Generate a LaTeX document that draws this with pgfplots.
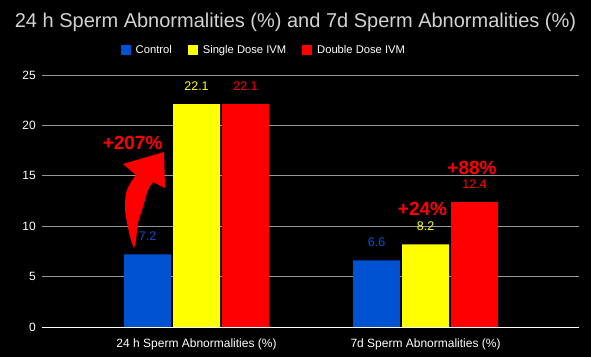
\documentclass[border=0pt]{standalone}
\usepackage{fontspec}
\setmainfont{Liberation Sans}
\usepackage{pgfplots}
\pgfplotsset{compat=1.18}
\definecolor{cblue}{RGB}{0,82,208}
\definecolor{cyellow}{RGB}{255,255,0}
\definecolor{cred}{RGB}{255,0,0}
\definecolor{gridgray}{RGB}{150,150,150}
\definecolor{titlegray}{RGB}{210,210,210}
\begin{document}
\begin{tikzpicture}
\fill[black] (0,0) rectangle (591bp,357bp);
\useasboundingbox (0,0) rectangle (591bp,357bp);
\begin{axis}[
  at={(42bp,30bp)}, anchor=south west,
  scale only axis, width=536.5bp, height=252bp,
  ybar=2bp, bar width=47bp,
  xmin=-0.6747, xmax=1.668, ymin=0, ymax=25,
  xtick={0,1}, xticklabels={24 h Sperm Abnormalities (\%), 7d Sperm Abnormalities (\%)},
  ytick={0,5,...,25},
  ymajorgrids, grid style={gridgray, line width=0.8bp},
  axis line style={draw=none},
  tick style={draw=none},
  tick label style={font=\fontsize{12bp}{14bp}\selectfont, text=white},
  /pgf/number format/assume math mode=true,
  yticklabel style={anchor=east, inner sep=0pt, xshift=-6bp},
  xticklabel style={anchor=north, inner sep=0pt, yshift=-7bp},
  clip=false,
  nodes near coords,
  nodes near coords style={font=\fontsize{12.5bp}{14bp}\selectfont, anchor=center, yshift=18bp},
  legend style={at={(0.4135,1.099)}, anchor=center, draw=none, fill=none, text=white,
    font=\fontsize{11.2bp}{13bp}\selectfont, legend columns=3,
    /tikz/every odd column/.append style={column sep=3bp},
    /tikz/every even column/.append style={column sep=14bp}},
  legend image code/.code={\fill[#1,draw=none] (0bp,-5bp) rectangle (10bp,5bp);},
]
\addplot[fill=cblue, draw=none, every node near coord/.append style={text=cblue}] coordinates {(0,7.2) (1,6.6)};
\addplot[fill=cyellow, draw=none, every node near coord/.append style={text=cyellow}] coordinates {(0,22.1) (1,8.2)};
\addplot[fill=cred, draw=none, every node near coord/.append style={text=cred}] coordinates {(0,22.1) (1,12.4)};
\legend{Control, Single Dose IVM, Double Dose IVM}
\draw[white, line width=1bp] (rel axis cs:0,0) -- (rel axis cs:1,0);
\fill[cred] (axis cs:-0.2729,7.84) -- plot[smooth, tension=0.6] coordinates {(axis cs:-0.2729,7.84) (axis cs:-0.2860,8.63) (axis cs:-0.3035,10.32) (axis cs:-0.3122,11.90) (axis cs:-0.3035,13.59) (axis cs:-0.2642,15.08)} -- (axis cs:-0.3210,16.17) -- (axis cs:-0.1419,17.36) -- (axis cs:-0.1376,13.79) -- plot[smooth, tension=0.6] coordinates {(axis cs:-0.1900,14.38) (axis cs:-0.2118,13.59) (axis cs:-0.2336,11.90) (axis cs:-0.2555,10.32) (axis cs:-0.2642,8.63) (axis cs:-0.2729,7.84)} -- cycle;
\node[text=cred, font=\bfseries\fontsize{19bp}{21bp}\selectfont] at (axis cs:-0.279,18.25) {+207\%};
\node[text=cred, font=\bfseries\fontsize{19bp}{21bp}\selectfont] at (axis cs:0.987,11.71) {+24\%};
\node[text=cred, font=\bfseries\fontsize{19bp}{21bp}\selectfont] at (axis cs:1.203,15.82) {+88\%};
\end{axis}
\node[text=titlegray, font=\fontsize{20bp}{24bp}\selectfont] at (295.5bp,335bp) {24 h Sperm Abnormalities (\%) and 7d Sperm Abnormalities (\%)};
\end{tikzpicture}
\end{document}
